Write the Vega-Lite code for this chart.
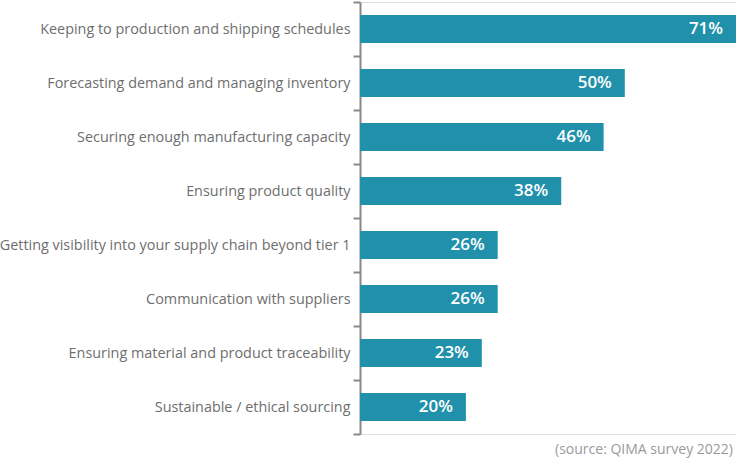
{
  "$schema": "https://vega.github.io/schema/vega-lite/v6.json",
  "width": 376,
  "height": 432,
  "autosize": {"type": "none"},
  "padding": {"left": 360, "top": 2, "right": 0, "bottom": 25},
  "background": "white",
  "title": {"text": "(source: QIMA survey 2022)", "orient": "bottom", "anchor": "end", "fontSize": 14, "fontWeight": "normal", "color": "#9a9a9a", "font": "Open Sans", "offset": 8, "dx": -3},
  "data": {"values": [
    {"task": "Keeping to production and shipping schedules", "pct": 0.71},
    {"task": "Forecasting demand and managing inventory", "pct": 0.50},
    {"task": "Securing enough manufacturing capacity", "pct": 0.46},
    {"task": "Ensuring product quality", "pct": 0.38},
    {"task": "Getting visibility into your supply chain beyond tier 1", "pct": 0.26},
    {"task": "Communication with suppliers", "pct": 0.26},
    {"task": "Ensuring material and product traceability", "pct": 0.23},
    {"task": "Sustainable / ethical sourcing", "pct": 0.20}
  ]},
  "encoding": {
    "y": {"field": "task", "type": "nominal", "sort": null,
      "scale": {"paddingInner": 0, "paddingOuter": 0},
      "axis": {"title": null, "ticks": true, "tickBand": "extent", "domainColor": "#888888", "domainWidth": 2, "tickColor": "#888888", "tickWidth": 2, "tickSize": 7, "labelPadding": 3, "labelFontSize": 14.4, "labelColor": "#6e6e6e", "labelFont": "Open Sans", "labelLimit": 400}},
    "x": {"field": "pct", "type": "quantitative", "scale": {"domain": [0, 0.71], "nice": false}, "axis": null}
  },
  "layer": [
    {"mark": {"type": "bar", "color": "#2191AB", "height": {"band": 0.52}}},
    {"mark": {"type": "text", "align": "right", "dx": -13, "color": "white", "fontSize": 17, "fontWeight": 600, "font": "Open Sans"},
     "encoding": {"text": {"field": "pct", "type": "quantitative", "format": ".0%"}}}
  ]
}
